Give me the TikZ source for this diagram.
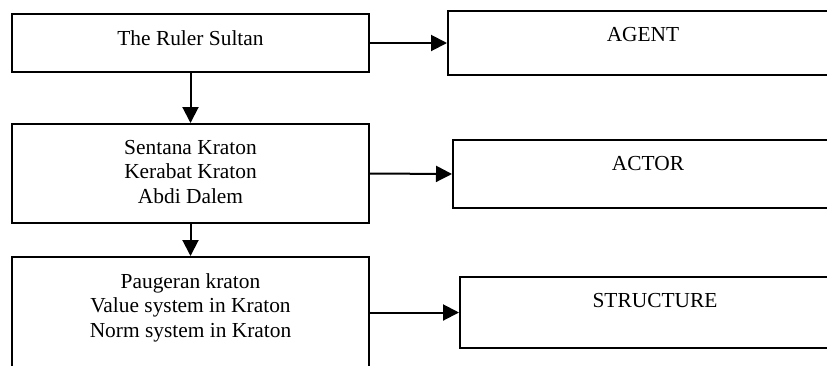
\documentclass[tikz,border=0pt]{standalone}
\usepackage{fontspec}
\setmainfont{Liberation Serif}
\usetikzlibrary{arrows.meta}
\tikzset{
  box/.style={draw, line width=2pt, rectangle, anchor=north west, inner sep=0pt},
  boxtext/.style={anchor=north, inner sep=0pt, yshift=-17pt, align=center, font=\fontsize{21.4}{24.5}\selectfont},
  link/.style={line width=2pt, -{Triangle[length=16pt,width=16pt]}}
}
\begin{document}
\begin{tikzpicture}[x=1pt, y=-1pt]
  \useasboundingbox (0,0) rectangle (827,365);
  \clip (0,0) rectangle (827,365);

  % left column
  \node[box, minimum width=357pt, minimum height=58pt]  (ruler) at (11,13)  {};
  \node[box, minimum width=357pt, minimum height=99pt]  (kin)   at (11,123) {};
  \node[box, minimum width=357pt, minimum height=130pt] (rules) at (11,256) {};
  \node[boxtext] (rulertext) at (ruler.north) {The Ruler Sultan};
  \node[boxtext] (kintext)   at (kin.north)   {Sentana Kraton\\Kerabat Kraton\\Abdi Dalem};
  \node[boxtext] (rulestext) at (rules.north) {Paugeran kraton\\Value system in Kraton\\Norm system in Kraton};

  % right column
  \node[box, minimum width=390pt, minimum height=64pt] (agent)     at (447,10)  {};
  \node[box, minimum width=390pt, minimum height=68pt] (actor)     at (452,139) {};
  \node[box, minimum width=390pt, minimum height=71pt] (structure) at (459,276) {};
  \node[boxtext] (agenttext)     at (agent.north)     {AGENT};
  \node[boxtext] (actortext)     at (actor.north)     {ACTOR};
  \node[boxtext] (structuretext) at (structure.north) {STRUCTURE};

  \draw[link] (ruler.south) -- (kin.north);
  \draw[link] (kin.south) -- (rules.north);
  \draw[link] (ruler.east) -- (agent.west);
  \draw[link] (kin.east) -- (actor.west);
  \draw[link] (rules.east |- structure.west) -- (structure.west);
\end{tikzpicture}
\end{document}
